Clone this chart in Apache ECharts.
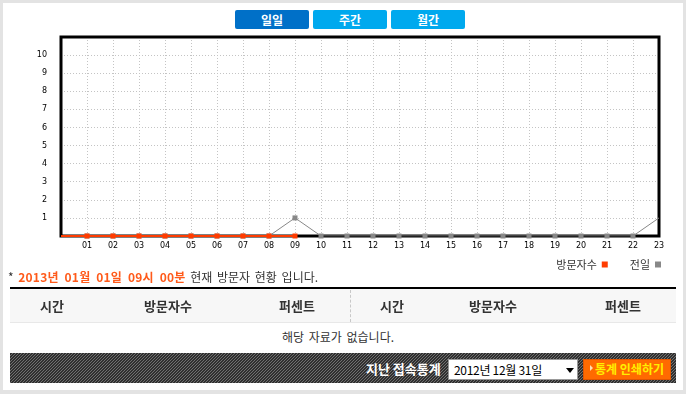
<!DOCTYPE html>
<html><head><meta charset="utf-8">
<script src="https://cdn.jsdelivr.net/npm/echarts@6/dist/echarts.min.js"></script>
<style>
html,body{margin:0;padding:0;}
body{width:686px;height:394px;background:#e3e3e3;position:relative;overflow:hidden;font-family:"Noto Sans CJK KR","Noto Sans",sans-serif;}
#page{position:absolute;left:3px;top:3px;width:680px;height:387px;background:#fff;}
.abs{position:absolute;}
.btn{position:absolute;top:10px;height:19px;width:74px;border-radius:2px;color:#fff;font-weight:bold;font-size:12px;line-height:19px;text-align:center;}
#chart{position:absolute;left:0;top:0;width:686px;height:272px;}
.th{position:absolute;top:289px;height:33px;line-height:33px;font-size:13px;font-weight:bold;color:#333;transform:translateX(-50%);white-space:nowrap;}
.stripes{background-color:#333;background-image:url("data:image/svg+xml,%3Csvg xmlns='http://www.w3.org/2000/svg' width='3' height='3' shape-rendering='crispEdges'%3E%3Crect width='3' height='3' fill='%23303030'/%3E%3Crect x='2' y='0' width='1' height='1' fill='%23707070'/%3E%3Crect x='1' y='1' width='1' height='1' fill='%23707070'/%3E%3Crect x='0' y='2' width='1' height='1' fill='%23707070'/%3E%3C/svg%3E");background-size:3px 3px;}
</style></head>
<body>
<div id="page"></div>
<div class="btn" style="left:235px;background:#0070c8;">일일</div>
<div class="btn" style="left:313px;background:#00a9ee;">주간</div>
<div class="btn" style="left:391px;background:#00a9ee;">월간</div>
<div id="chart"></div>
<div class="abs" style="left:8px;top:269px;font-size:12px;line-height:16px;color:#333;white-space:nowrap;word-spacing:2px;">* <span style="color:#ff5a1a;font-weight:bold;letter-spacing:0.2px;word-spacing:3px;">2013년 01월 01일 09시 00분</span> 현재 방문자 현황 입니다.</div>
<div class="abs" style="left:10px;top:287px;width:666px;height:2px;background:#000;"></div>
<div class="abs" style="left:10px;top:289px;width:666px;height:33px;background:#f7f7f7;border-bottom:1px solid #e8e8e8;"></div>
<div class="abs" style="left:350px;top:290px;width:0;height:32px;border-left:1px dashed #c8c8c8;"></div>
<div class="th" style="left:52px;">시간</div>
<div class="th" style="left:168px;">방문자수</div>
<div class="th" style="left:297px;">퍼센트</div>
<div class="th" style="left:392px;">시간</div>
<div class="th" style="left:493px;">방문자수</div>
<div class="th" style="left:623px;">퍼센트</div>
<div class="abs" style="left:338px;top:329px;transform:translateX(-50%);font-size:12px;line-height:16px;color:#333;white-space:nowrap;word-spacing:2px;">해당 자료가 없습니다.</div>
<div class="abs stripes" style="left:10px;top:353px;width:666px;height:30px;"></div>
<div class="abs" style="left:366px;top:360px;font-size:13px;line-height:18px;font-weight:bold;color:#fff;white-space:nowrap;">지난 접속통계</div>
<div class="abs" style="left:448px;top:359px;width:128px;height:19px;background:#fff;border:1px solid #999;">
  <div class="abs" style="left:5px;top:1px;font-size:12px;line-height:17px;color:#000;white-space:nowrap;letter-spacing:-0.3px;">2012년 12월 31일</div>
  <div class="abs" style="left:117px;top:8px;width:0;height:0;border-left:4px solid transparent;border-right:4px solid transparent;border-top:5px solid #000;"></div>
</div>
<div class="abs" style="left:583px;top:359px;width:86px;height:19px;background:#ff6a00;border:1px solid #e05500;"></div>
<div class="abs" style="left:590px;top:365px;width:0;height:0;border-top:3px solid transparent;border-bottom:3px solid transparent;border-left:3px solid #ffe0b0;"></div>
<div class="abs" style="left:595px;top:360px;font-size:12px;line-height:18px;font-weight:bold;color:#ffee00;white-space:nowrap;">통계 인쇄하기</div>
<script>
// Data
const hours = ['00','01','02','03','04','05','06','07','08','09','10','11','12','13','14','15','16','17','18','19','20','21','22','23'];
const visitors = [0,0,0,0,0,0,0,0,0,0,null,null,null,null,null,null,null,null,null,null,null,null,null,null];
const previousDay = [0,0,0,0,0,0,0,0,0,1,0,0,0,0,0,0,0,0,0,0,0,0,0,1];
const seriesNames = ['방문자수','전일'];

function toData(arr){
  return arr.map((v,i)=>{
    if (i===0 || i===arr.length-1) return {value:v, symbolSize:0};
    return v;
  });
}

const chart = echarts.init(document.getElementById('chart'));
chart.setOption({
  animation:false,
  grid:{left:61,top:37,width:598,height:199,show:true,z:1,borderColor:'#000',borderWidth:3,backgroundColor:'transparent'},
  legend:{
    right:20, top:254, align:'right', itemWidth:6, itemHeight:6, itemGap:22,
    icon:'rect',
    textStyle:{fontSize:11,color:'#333',fontFamily:'"Noto Sans CJK KR", sans-serif'},
    data:[{name:seriesNames[0],itemStyle:{color:'#ff3c00'}},{name:seriesNames[1],itemStyle:{color:'#888'}}]
  },
  xAxis:{
    type:'category', data:hours, boundaryGap:false, z:0,
    axisLine:{show:false}, axisTick:{show:false},
    axisLabel:{interval:0, fontSize:8, color:'#000', margin:6, fontFamily:'DejaVu Sans',
      formatter:(v,i)=> i===0 ? '' : v},
    splitLine:{show:true, interval:0, lineStyle:{color:'#c4c4c4', type:[1,2], width:1}}
  },
  yAxis:{
    type:'value', min:0, max:11, interval:1, z:0,
    axisLine:{show:false}, axisTick:{show:false},
    axisLabel:{fontSize:8, color:'#000', margin:14, fontFamily:'DejaVu Sans', showMinLabel:false, showMaxLabel:false},
    splitLine:{show:true, lineStyle:{color:'#c4c4c4', type:[1,2], width:1}}
  },
  series:[
    {name:seriesNames[1], type:'line', data:toData(previousDay), symbol:'rect', symbolSize:5,
     itemStyle:{color:'#888'}, lineStyle:{color:'#888',width:1}, z:2},
    {name:seriesNames[0], type:'line', data:toData(visitors), symbol:'rect', symbolSize:5,
     itemStyle:{color:'#ff3c00'}, lineStyle:{color:'#ff3c00',width:2}, z:3}
  ]
});
</script>
</body></html>
